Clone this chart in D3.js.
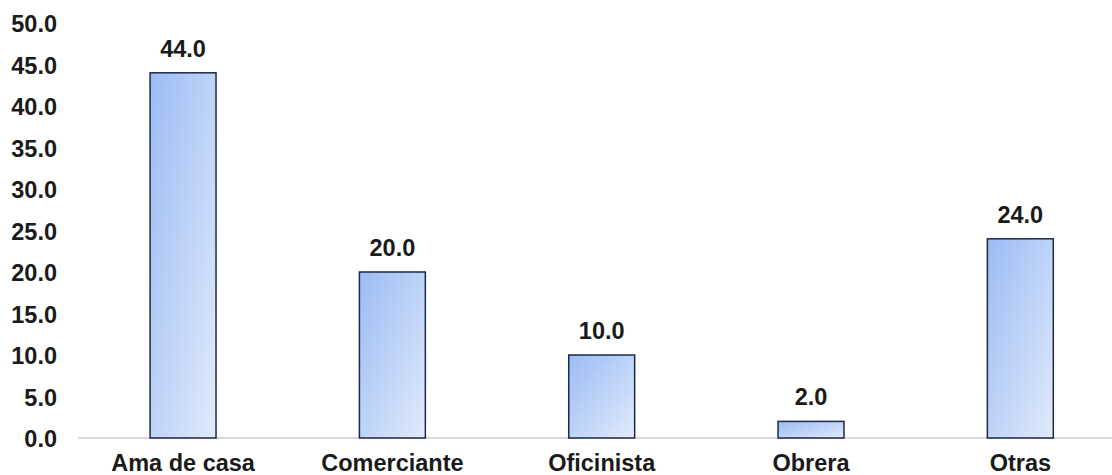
<!DOCTYPE html>
<html><head><meta charset="utf-8">
<script src="https://cdn.jsdelivr.net/npm/d3@7"></script>
<style>body{margin:0;background:#fff;}svg{display:block;font-family:"Liberation Sans",Arial,sans-serif;}</style>
</head><body>
<svg id="c" width="1112" height="475"></svg>
<script>
const categories = ["Ama de casa","Comerciante","Oficinista","Obrera","Otras"];
const values = [44.0, 20.0, 10.0, 2.0, 24.0];
const yTicks = [0,5,10,15,20,25,30,35,40,45,50];

const svg = d3.select("#c");
const W = 1112, H = 475;
const FS = 23.5;
const x = d3.scaleBand().domain(categories).range([78.4, 1125]).paddingInner(0.685).paddingOuter(0.3425);
const y = d3.scaleLinear().domain([0,50]).range([438, 23]);

const defs = svg.append("defs");
const g = defs.append("linearGradient").attr("id","bg").attr("x1","0").attr("y1","0").attr("x2","1").attr("y2","1");
g.append("stop").attr("offset","0").attr("stop-color","#9bbcf4");
g.append("stop").attr("offset","1").attr("stop-color","#e1eafb");

// y axis labels
const ya = svg.append("g").attr("transform","translate(57,1)")
  .call(d3.axisLeft(y).tickValues(yTicks).tickFormat(d3.format(".1f")).tickSize(0).tickPadding(0));
ya.select(".domain").remove();
ya.selectAll("text").attr("font-size",FS).attr("font-weight","bold").attr("fill","#1a1a1a").attr("font-family","Liberation Sans, Arial, sans-serif");

// baseline
svg.append("line").attr("x1",78).attr("x2",W).attr("y1",y(0)).attr("y2",y(0))
  .attr("stroke","#d9d9d9").attr("stroke-width",2);

// bars
svg.selectAll("rect.bar").data(values).enter().append("rect").attr("class","bar")
  .attr("x",(d,i)=>x(categories[i])).attr("width",x.bandwidth())
  .attr("y",d=>y(d)).attr("height",d=>y(0)-y(d))
  .attr("fill","url(#bg)").attr("stroke","#1c2a48").attr("stroke-width",1.5);

// value labels
svg.selectAll("text.val").data(values).enter().append("text").attr("class","val")
  .attr("x",(d,i)=>x(categories[i])+x.bandwidth()/2).attr("y",d=>y(d)-16)
  .attr("text-anchor","middle").attr("font-size",FS).attr("font-weight","bold").attr("fill","#1a1a1a")
  .text(d=>d3.format(".1f")(d));

// x axis labels
const xa = svg.append("g").attr("transform",`translate(0,${y(0)})`)
  .call(d3.axisBottom(x).tickSize(0).tickPadding(16));
xa.select(".domain").remove();
xa.selectAll("text").attr("font-size",FS).attr("font-weight","bold").attr("fill","#1a1a1a").attr("font-family","Liberation Sans, Arial, sans-serif");
</script>
</body></html>
